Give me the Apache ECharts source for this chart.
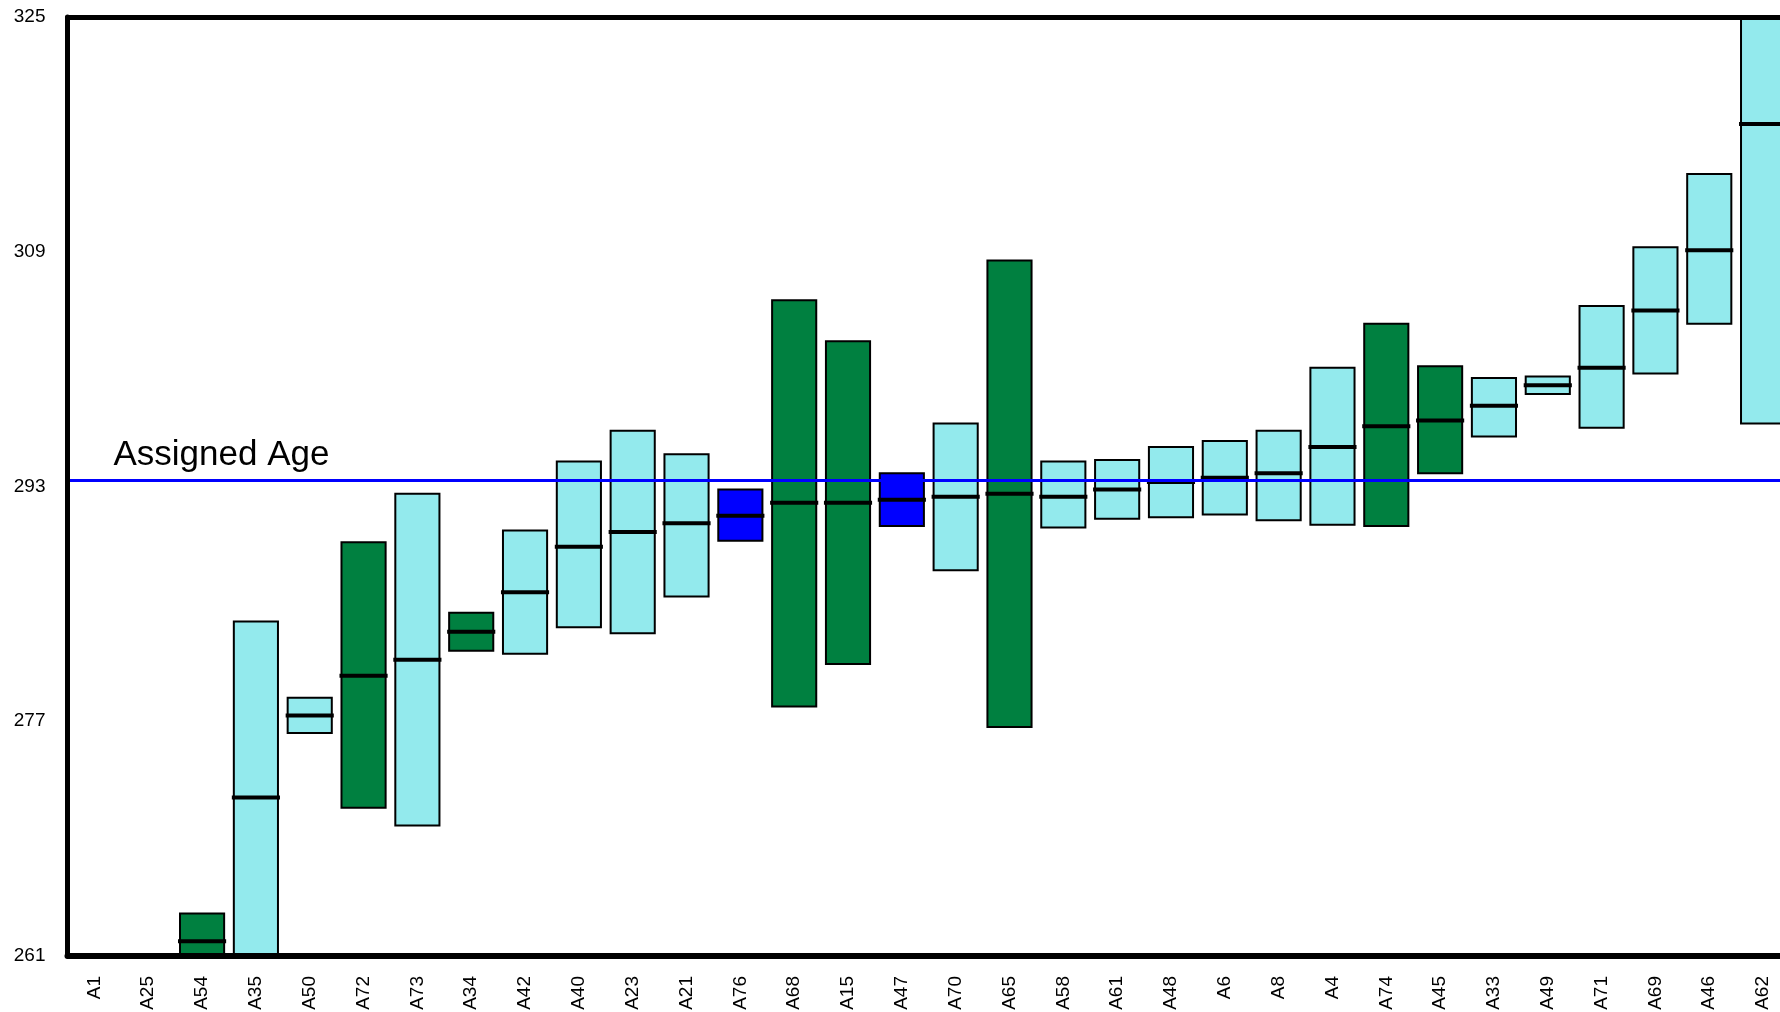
<!DOCTYPE html>
<html>
<head>
<meta charset="utf-8">
<script src="https://cdn.jsdelivr.net/npm/echarts@6/dist/echarts.min.js"></script>
<style>
html,body{margin:0;padding:0;background:#fff;}
#chart{width:1780px;height:1012px;}
</style>
</head>
<body>
<div id="chart"></div>
<script>
// ---- data ----
const categories = ['A1','A25','A54','A35','A50','A72','A73','A34','A42','A40','A23','A21','A76','A68','A15','A47','A70','A65','A58','A61','A48','A6','A8','A4','A74','A45','A33','A49','A71','A69','A46','A62'];
const highs   = [null,null,263.9,283.8,278.6,289.2,292.5,284.4,290.0,294.7,296.8,295.2,292.8,305.7,302.9,293.9,297.3,308.4,294.7,294.8,295.7,296.1,296.8,301.1,304.1,301.2,300.4,300.5,305.3,309.3,314.3,338.2];
const medians = [null,null,262.0,271.8,277.4,280.1,281.2,283.1,285.8,288.9,289.9,290.5,291.0,291.9,291.9,292.1,292.3,292.5,292.3,292.8,293.3,293.6,293.9,295.7,297.1,297.5,298.5,299.9,301.1,305.0,309.1,317.7];
const lows    = [null,null,260.1,259.8,276.2,271.1,269.9,281.8,281.6,283.4,283.0,285.5,289.3,278.0,280.9,290.3,287.3,276.6,290.2,290.8,290.9,291.1,290.7,290.4,290.3,293.9,296.4,299.3,297.0,300.7,304.1,297.3];
const groups  = [null,null,'g','c','c','g','c','g','c','c','c','c','b','g','g','b','c','g','c','c','c','c','c','c','g','g','c','c','c','c','c','c'];
const yTicks  = [261,277,293,309,325];
const assignedAge = 293.4;
const assignedLabel = 'Assigned Age';

// ---- styles ----
const COLORS = { c: '#93EAED', g: '#008040', b: '#0000FF' };
const FONT = "'Liberation Sans', Arial, sans-serif";

const seriesData = [];
categories.forEach((c, i) => {
  if (highs[i] == null) return;
  seriesData.push([i, lows[i], medians[i], highs[i], groups[i]]);
});

function renderItem(params, api) {
  const cs = params.coordSys;
  const x = api.value(0);
  const lo = api.coord([x, api.value(1)]);
  const md = api.coord([x, api.value(2)]);
  const hi = api.coord([x, api.value(3)]);
  const w = api.size([1, 0])[0] * 0.82;
  const fill = COLORS[api.value(4)];
  const top = Math.max(hi[1], cs.y);
  const bot = Math.min(lo[1], cs.y + cs.height);
  const children = [{
    type: 'rect',
    shape: { x: hi[0] - w / 2, y: top, width: w, height: bot - top },
    style: { fill: fill, stroke: '#000', lineWidth: 2 }
  }];
  if (md[1] >= cs.y && md[1] <= cs.y + cs.height) {
    children.push({
      type: 'line',
      shape: { x1: md[0] - w / 2 - 2, y1: md[1], x2: md[0] + w / 2 + 2, y2: md[1] },
      style: { stroke: '#000', lineWidth: 4 }
    });
  }
  return { type: 'group', children: children };
}

const chart = echarts.init(document.getElementById('chart'), null, { renderer: 'canvas' });
chart.setOption({
  backgroundColor: '#fff',
  animation: false,
  grid: { left: 67.5, top: 17, width: 1722.5, height: 939, containLabel: false, outerBoundsMode: 'none' },
  xAxis: [{
    type: 'category',
    data: categories,
    position: 'bottom',
    z: 10,
    axisLine: { show: true, lineStyle: { color: '#000', width: 6 } },
    axisTick: { show: false },
    axisLabel: { rotate: 90, margin: 20, fontSize: 19, color: '#000', fontFamily: FONT, interval: 0 },
    splitLine: { show: false }
  }, {
    type: 'category',
    data: categories,
    position: 'top',
    z: 10,
    axisLine: { show: true, lineStyle: { color: '#000', width: 5 } },
    axisTick: { show: false },
    axisLabel: { show: false },
    splitLine: { show: false }
  }],
  yAxis: {
    type: 'value',
    min: yTicks[0],
    max: yTicks[yTicks.length - 1],
    z: 10,
    axisLine: { show: true, lineStyle: { color: '#000', width: 5 } },
    axisTick: { show: false, customValues: yTicks },
    axisLabel: { customValues: yTicks, margin: 22, fontSize: 19, color: '#000', fontFamily: FONT },
    splitLine: { show: false }
  },
  series: [{
    type: 'custom',
    renderItem: renderItem,
    data: seriesData,
    encode: { x: 0, y: [1, 2, 3] },
    markLine: {
      silent: true,
      symbol: ['none', 'none'],
      lineStyle: { color: '#0000FF', width: 3, type: 'solid' },
      label: {
        show: true,
        position: 'insideStartTop',
        formatter: assignedLabel,
        fontSize: 35,
        color: '#000',
        fontFamily: FONT,
        distance: [46, 8]
      },
      data: [{ yAxis: assignedAge }]
    }
  }]
});
</script>
</body>
</html>
